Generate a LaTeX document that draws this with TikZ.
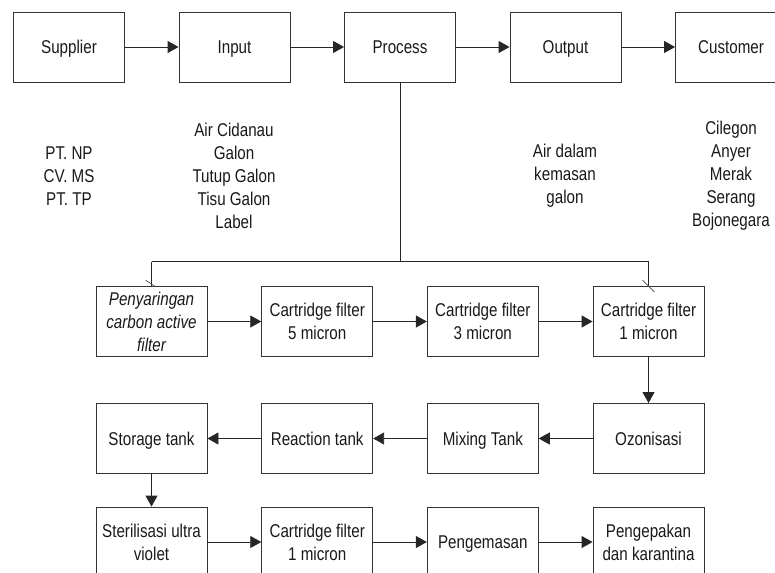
\documentclass[tikz,border=0pt]{standalone}
\usepackage{fontspec}
\setmainfont{Liberation Sans}[FakeStretch=0.82]
\usetikzlibrary{arrows.meta}
\begin{document}
\begin{tikzpicture}[x=1pt,y=-1pt,
  txt/.style={font=\fontsize{18.5}{23}\selectfont, text=black!90},
  box/.style={txt, draw=black!80, line width=0.9pt, minimum width=111pt, minimum height=70pt, inner sep=0pt, align=center},
  one/.style={text height=15pt, text depth=1.75pt},
  lbl/.style={txt, align=center, inner sep=0pt},
  ln/.style={draw=black!85, line width=0.9pt},
  arr/.style={ln, -{Triangle[length=11pt,width=12pt]}},
  tick/.style={draw=black!70, line width=0.7pt}]
\useasboundingbox (0,0) rectangle (775,572);
% top row
\node[box,one] (sup)  at (69,47)    {Supplier};
\node[box,one] (inp)  at (234.5,47) {Input};
\node[box,one] (proc) at (400,47)   {Process};
\node[box,one] (out)  at (565.5,47) {Output};
\node[box,one] (cus)  at (731,47)   {Customer};
\draw[arr] (sup) -- (inp);
\draw[arr] (inp) -- (proc);
\draw[arr] (proc) -- (out);
\draw[arr] (out) -- (cus);
% labels
\node[lbl] (lsup) at (69,176)  {PT. NP\\CV. MS\\PT. TP};
\node[lbl] (linp) at (234,176) {Air Cidanau\\Galon\\Tutup Galon\\Tisu Galon\\Label};
\node[lbl] (lout) at (565,176) {Air dalam\\kemasan\\galon};
\node[lbl] (lcus) at (731,176) {Cilegon\\Anyer\\Merak\\Serang\\Bojonegara};
% row 2
\node[box] (b1) at (151.5,321.5) {\itshape Penyaringan\\\itshape carbon active\\\itshape filter};
\node[box] (b2) at (317.2,321.5) {Cartridge filter\\5 micron};
\node[box] (b3) at (482.8,321.5) {Cartridge filter\\3 micron};
\node[box] (b4) at (648.5,321.5) {Cartridge filter\\1 micron};
% row 3
\node[box,one] (c1) at (151.5,438.5) {Storage tank};
\node[box,one] (c2) at (317.2,438.5) {Reaction tank};
\node[box,one] (c3) at (482.8,438.5) {Mixing Tank};
\node[box,one] (c4) at (648.5,438.5) {Ozonisasi};
% row 4
\node[box] (d1) at (151.5,542) {Sterilisasi ultra\\violet};
\node[box] (d2) at (317.2,542) {Cartridge filter\\1 micron};
\node[box,one] (d3) at (482.8,542) {Pengemasan};
\node[box] (d4) at (648.5,542) {Pengepakan\\dan karantina};
% branch from process
\coordinate (j)  at (400,261.5);
\coordinate (jl) at (151.5,261.5);
\coordinate (jr) at (648.5,261.5);
\draw[ln] (proc.south) -- (j);
\draw[ln] (jl) -- (jr);
\draw[ln] (jl) -- (b1.north);
\draw[ln] (jr) -- (b4.north);
\draw[tick] ([shift={(-6,-6)}]b1.north) -- ([shift={(3,0)}]b1.north);
\draw[tick] ([shift={(-6,-6)}]b4.north) -- ([shift={(6,6)}]b4.north);
% flow arrows
\draw[arr] (b1) -- (b2);
\draw[arr] (b2) -- (b3);
\draw[arr] (b3) -- (b4);
\draw[arr] (b4) -- (c4);
\draw[arr] (c4) -- (c3);
\draw[arr] (c3) -- (c2);
\draw[arr] (c2) -- (c1);
\draw[arr] (c1) -- (d1);
\draw[arr] (d1) -- (d2);
\draw[arr] (d2) -- (d3);
\draw[arr] (d3) -- (d4);
\end{tikzpicture}
\end{document}
